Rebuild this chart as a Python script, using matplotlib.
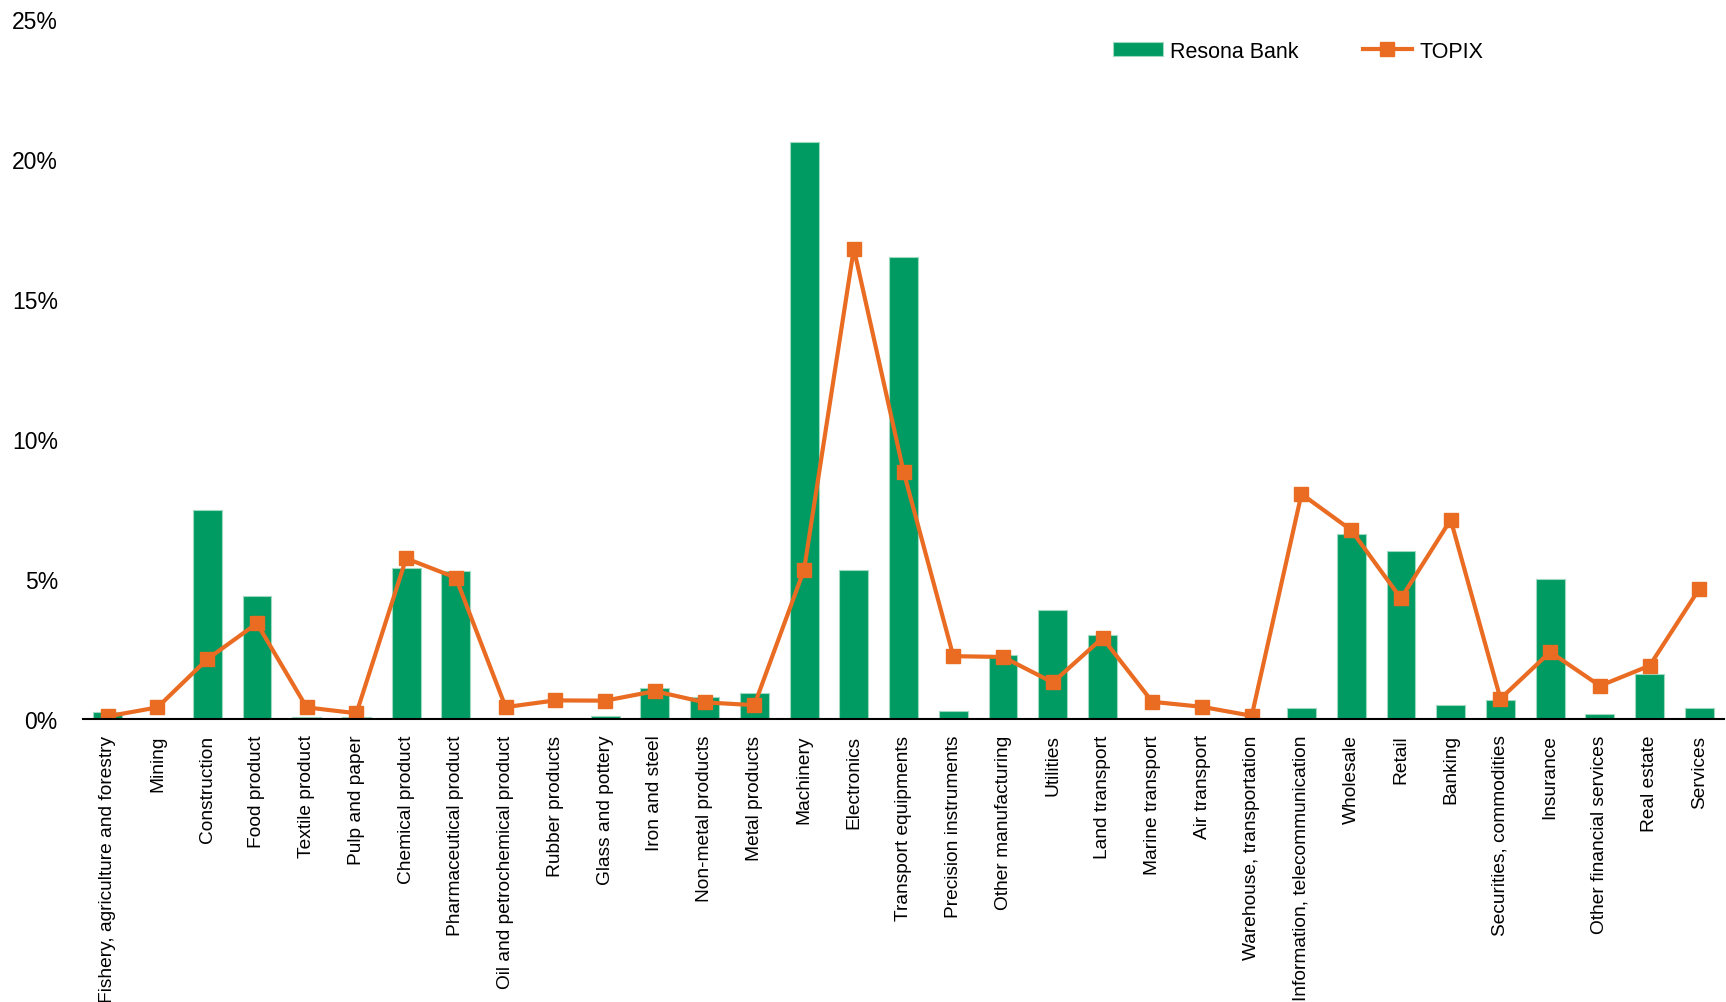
import matplotlib.pyplot as plt
from matplotlib.ticker import FuncFormatter

# sectors on the x axis
sectors = [
    "Fishery, agriculture and forestry", "Mining", "Construction", "Food product",
    "Textile product", "Pulp and paper", "Chemical product", "Pharmaceutical product",
    "Oil and petrochemical product", "Rubber products", "Glass and pottery",
    "Iron and steel", "Non-metal products", "Metal products", "Machinery",
    "Electronics", "Transport equipments", "Precision instruments",
    "Other manufacturing", "Utilities", "Land transport", "Marine transport",
    "Air transport", "Warehouse, transportation", "Information, telecommunication",
    "Wholesale", "Retail", "Banking", "Securities, commodities", "Insurance",
    "Other financial services", "Real estate", "Services",
]

# share of holdings, %
resona = [
    0.26, 0.0, 7.47, 4.40, 0.08, 0.08, 5.38, 5.29, 0.0, 0.02, 0.11,
    1.10, 0.78, 0.94, 20.6, 5.34, 16.5, 0.29, 2.29, 3.88, 3.00, 0.0,
    0.0, 0.05, 0.40, 6.61, 5.99, 0.51, 0.68, 5.02, 0.18, 1.63, 0.40,
]
topix = [
    0.10, 0.42, 2.14, 3.42, 0.42, 0.21, 5.74, 5.05, 0.43, 0.67, 0.66,
    1.00, 0.60, 0.50, 5.34, 16.8, 8.84, 2.25, 2.22, 1.31, 2.90, 0.62,
    0.44, 0.12, 8.04, 6.75, 4.31, 7.12, 0.73, 2.40, 1.19, 1.91, 4.66,
]
yticks = [0, 5, 10, 15, 20, 25]

GREEN = "#009B63"
ORANGE = "#EA6B22"

plt.rcParams["font.family"] = ["Liberation Sans", "DejaVu Sans"]

fig = plt.figure(figsize=(17.26, 10.03), dpi=100)
ax = fig.add_axes([0.048, 0.282, 0.951, 0.698])

x = range(len(sectors))
bars = ax.bar(x, resona, width=0.58, color=GREEN, edgecolor="#9FD9C0", linewidth=0.8,
              label="Resona Bank", zorder=2)
line, = ax.plot(x, topix, color=ORANGE, linewidth=3, marker="s", markersize=9.5,
                label="TOPIX", zorder=3)

ax.set_xlim(-0.5, len(sectors) - 0.5)
ax.set_ylim(0, 25)
ax.set_yticks(yticks)
ax.yaxis.set_major_formatter(FuncFormatter(lambda v, p: f"{v:.0f}%"))
ax.set_xticks(list(x))
ax.set_xticklabels(sectors, rotation=90, fontsize=13.8)
ax.tick_params(axis="y", labelsize=16.5, length=0, pad=18)
ax.tick_params(axis="x", length=0, pad=11)

for s in ["top", "right", "left"]:
    ax.spines[s].set_visible(False)
ax.spines["bottom"].set_color("black")
ax.spines["bottom"].set_linewidth(1.5)
ax.spines["bottom"].set_zorder(4)

ax.legend([bars, line], ["Resona Bank", "TOPIX"], loc="center right",
          bbox_to_anchor=(0.865, 0.954), ncol=2, frameon=False,
          fontsize=15.5, handlelength=2.3, handleheight=0.65, columnspacing=3.0,
          handletextpad=0.33)

fig.savefig("out.png", dpi=100)
